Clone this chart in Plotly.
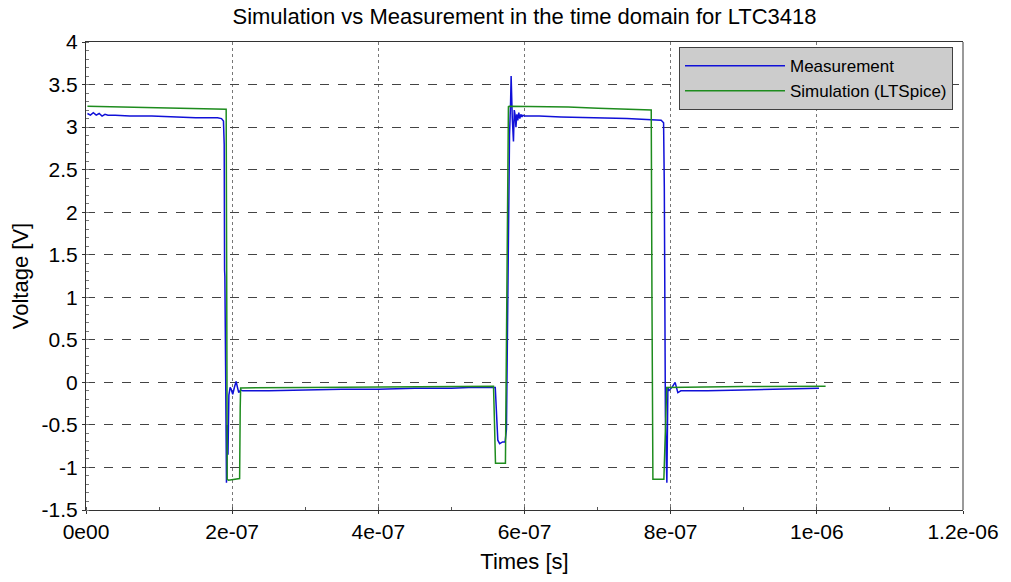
import plotly.graph_objects as go

# ---- data (times in ns, voltages in V) ----
meas_t_ns = [2, 6, 10, 14, 18, 22, 26, 30, 40, 60, 90, 120, 150, 180, 185.4, 188.1, 189.1, 189.6, 190.0,
             191.0, 192.2, 193.5, 194.3, 195.5, 197.2, 198.6, 200.8, 203.0, 205.4, 207.3, 209.0, 211.7,
             214.4, 250, 300, 350, 400, 450, 500, 523.5, 557.6, 560.0, 563.5, 566, 570, 573.5, 575.3,
             577.5, 579.5, 581.0, 581.7, 583.3, 584.9, 586.0, 587.2, 588.3, 589.5, 590.8, 592.2, 593.6,
             595.0, 596.5, 598.0, 600, 620, 650, 700.7, 740, 787.0, 790.3, 791.3, 791.7, 792.8, 794.8,
             795.5, 796.2, 797.5, 799.8, 802.5, 806.1, 809.8, 813.9, 850, 900, 950, 1003]
meas_v = [3.16, 3.14, 3.17, 3.14, 3.16, 3.13, 3.15, 3.14, 3.14, 3.13, 3.13, 3.12, 3.11, 3.11, 3.10, 3.07, 2.80, 1.32, 1.25,
          0.2, -1.18, -0.50, -0.85, -0.15, -0.06, -0.08, -0.14, -0.06, 0.01, -0.06, -0.12, -0.09,
          -0.10, -0.10, -0.09, -0.08, -0.08, -0.07, -0.07, -0.06, -0.06, -0.06, -0.68, -0.72, -0.70, -0.70, -0.55,
          1.40, 2.90, 3.30, 3.60, 3.10, 2.83, 3.20, 3.14, 3.00, 3.15, 3.08, 3.17, 3.10, 3.15, 3.12, 3.14, 3.13, 3.13, 3.12,
          3.11, 3.10, 3.08, 3.05, 2.30, 1.00, -0.40, -1.18, -0.55, -0.06, -0.10, -0.08, -0.05, 0.00, -0.12,
          -0.10, -0.10, -0.09, -0.08, -0.07]

sim_t_ns = [2, 100, 191.8, 192.6, 193.2, 195, 210.2, 211.0, 211.6, 300, 400, 500, 557.6, 559.0, 560.3,
            573.9, 575.7, 578.0, 579, 620, 660, 700.7, 773.4, 774.4, 775.7, 790.7, 793.9, 794.6, 900, 1012]
sim_v = [3.245, 3.23, 3.21, 1.0, -1.14, -1.15, -1.13, -0.3, -0.065, -0.06, -0.055, -0.05, -0.045, -0.5, -0.95,
         -0.95, 1.2, 3.24, 3.245, 3.24, 3.235, 3.22, 3.20, 1.0, -1.14, -1.14, -0.2, -0.06, -0.05, -0.045]

x_tick_vals = [0, 2e-7, 4e-7, 6e-7, 8e-7, 1e-6, 1.2e-6]
x_tick_text = ["0e00", "2e-07", "4e-07", "6e-07", "8e-07", "1e-06", "1.2e-06"]
y_tick_vals = [-1.5, -1, -0.5, 0, 0.5, 1, 1.5, 2, 2.5, 3, 3.5, 4]
y_tick_text = ["-1.5", "-1", "-0.5", "0", "0.5", "1", "1.5", "2", "2.5", "3", "3.5", "4"]

FONT = "Liberation Sans, Arial, sans-serif"

fig = go.Figure()
fig.add_trace(go.Scatter(x=[t * 1e-9 for t in meas_t_ns], y=meas_v, mode="lines",
                         name="Measurement", line=dict(color="#1010d8", width=1.5)))
fig.add_trace(go.Scatter(x=[t * 1e-9 for t in sim_t_ns], y=sim_v, mode="lines",
                         name="Simulation (LTSpice)", line=dict(color="#1e8c1e", width=1.5)))

fig.update_layout(
    width=1011, height=582,
    margin=dict(l=86, r=45, t=42, b=68),
    paper_bgcolor="white", plot_bgcolor="white",
    font=dict(family=FONT, color="black"),
    title=dict(text="Simulation vs Measurement in the time domain for LTC3418",
               x=0.5, xref="paper", y=1 - 16 / 582, yref="container", yanchor="middle",
               font=dict(size=22, family=FONT, color="black")),
    showlegend=True,
    legend=dict(x=0.9886, xanchor="right", y=0.989, yanchor="top",
                bgcolor="#cccccc", bordercolor="#404040", borderwidth=1,
                font=dict(size=17, family=FONT), itemwidth=100,
                tracegroupgap=0),
    shapes=[dict(type="line", xref="paper", yref="paper", x0=1, x1=1, y0=0, y1=1,
                 line=dict(color="#9a9a9a", width=2))],
)

fig.update_xaxes(
    range=[0, 1.2e-6], tickvals=x_tick_vals, ticktext=x_tick_text,
    showline=True, linecolor="#333333", linewidth=1, mirror=True,
    showgrid=True, gridcolor="#777777", griddash="dot", gridwidth=1,
    ticks="outside", ticklen=3, tickcolor="#333333",
    minor=dict(dtick=1e-7, ticks="inside", ticklen=3, tickcolor="#555555", showgrid=False),
    tickfont=dict(size=21, family=FONT), zeroline=False,
    title=dict(text="Times [s]", font=dict(size=22, family=FONT), standoff=11),
)
fig.update_yaxes(
    range=[-1.5, 4], tickvals=y_tick_vals, ticktext=y_tick_text,
    showline=True, linecolor="#333333", linewidth=1,
    showgrid=True, gridcolor="#444444", griddash="dash", gridwidth=1,
    ticks="outside", ticklen=3, tickcolor="#333333",
    minor=dict(dtick=0.1, ticks="inside", ticklen=3, tickcolor="#777777", showgrid=False),
    tickfont=dict(size=21, family=FONT), zeroline=False,
    title=dict(text="Voltage [V]", font=dict(size=22, family=FONT), standoff=6),
)

fig.write_html("out.html", config={"displayModeBar": False},
               post_script="document.body.style.margin='0';")
